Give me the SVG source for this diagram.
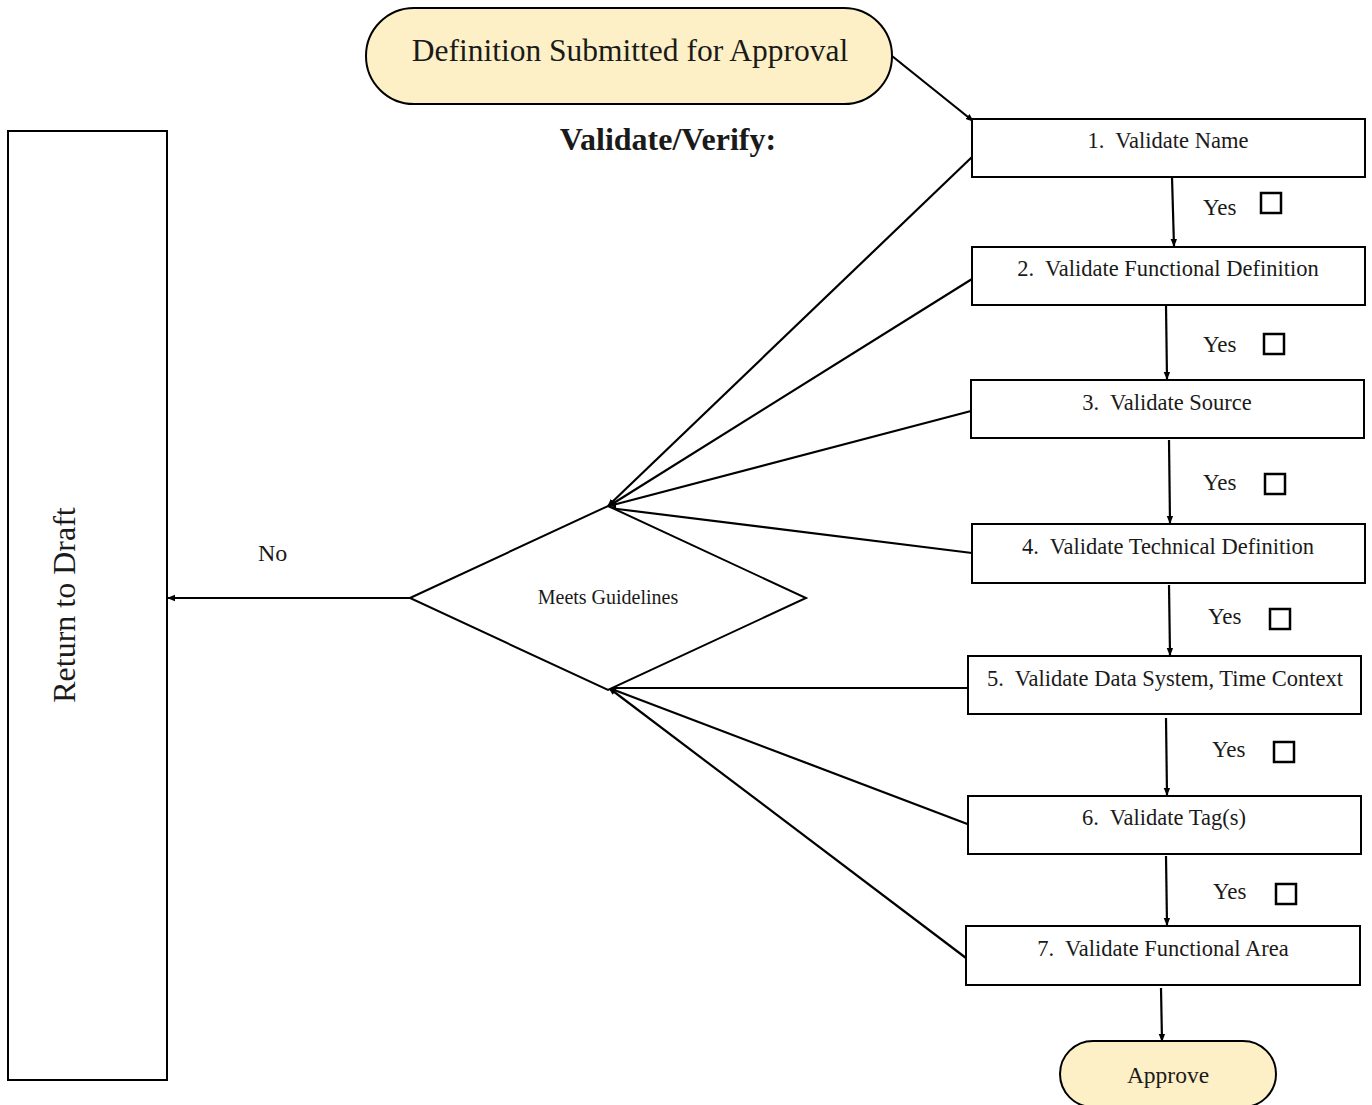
<svg xmlns="http://www.w3.org/2000/svg" width="1372" height="1105" viewBox="0 0 1372 1105">
<defs>
<style>
.t{font-family:"Liberation Serif","Times New Roman",serif;fill:#1a1a1a;white-space:pre}
.bt{font-size:22.5px}
.yes{font-size:23px}
.box{fill:#fff;stroke:#000;stroke-width:2}
.term{fill:#FEF0C6;stroke:#000;stroke-width:2}
.cb{fill:none;stroke:#000;stroke-width:2.5}
.ca{stroke:#000;stroke-width:2.2;fill:none;marker-end:url(#ah)}
</style>
<marker id="ah" markerWidth="8" markerHeight="8" refX="7" refY="4" orient="auto" markerUnits="userSpaceOnUse">
<path d="M0,0.8 L8,4 L0,7.2 Z" fill="#000"/>
</marker>
</defs>
<rect width="1372" height="1105" fill="#fff"/>

<g id="connectors">
<line class="ca" x1="892" y1="56" x2="973" y2="121"/>
<line class="ca" x1="1172" y1="177" x2="1174" y2="246"/>
<line class="ca" x1="1166" y1="305" x2="1167" y2="379"/>
<line class="ca" x1="1169" y1="440" x2="1170" y2="523"/>
<line class="ca" x1="1169" y1="585" x2="1170" y2="655"/>
<line class="ca" x1="1166" y1="718" x2="1167" y2="795"/>
<line class="ca" x1="1166" y1="856" x2="1167" y2="925"/>
<line class="ca" x1="1161" y1="988" x2="1162" y2="1041"/>
<line class="ca" x1="972" y1="157" x2="608" y2="506"/>
<line class="ca" x1="972" y1="279" x2="609" y2="506"/>
<line class="ca" x1="971" y1="411" x2="609" y2="506"/>
<line class="ca" x1="972" y1="553" x2="609" y2="508"/>
<line class="ca" x1="968" y1="688" x2="609" y2="688"/>
<line class="ca" x1="970" y1="825" x2="609" y2="688"/>
<line class="ca" x1="966" y1="958" x2="609" y2="688"/>
<line class="ca" x1="410" y1="598" x2="168" y2="598"/>
</g>

<g id="start">
<rect class="term" x="366" y="8" width="526" height="96" rx="48" ry="48"/>
<text class="t" x="630" y="61" font-size="31.5" text-anchor="middle">Definition Submitted for Approval</text>
</g>

<g id="heading">
<text class="t" x="668" y="150" font-size="32" font-weight="bold" text-anchor="middle">Validate/Verify:</text>
</g>

<g id="step1">
<rect class="box" x="972" y="119" width="393" height="58"/>
<text class="t bt" x="1168" y="148" text-anchor="middle">1.  Validate Name</text>
</g>
<g id="step2">
<rect class="box" x="972" y="247" width="393" height="58"/>
<text class="t bt" x="1168" y="276" text-anchor="middle">2.  Validate Functional Definition</text>
</g>
<g id="step3">
<rect class="box" x="971" y="380" width="393" height="58"/>
<text class="t bt" x="1167" y="410" text-anchor="middle">3.  Validate Source</text>
</g>
<g id="step4">
<rect class="box" x="972" y="524" width="393" height="59"/>
<text class="t bt" x="1168" y="554" text-anchor="middle">4.  Validate Technical Definition</text>
</g>
<g id="step5">
<rect class="box" x="968" y="656" width="393" height="58"/>
<text class="t bt" x="1165" y="686" text-anchor="middle">5.  Validate Data System, Time Context</text>
</g>
<g id="step6">
<rect class="box" x="968" y="796" width="393" height="58"/>
<text class="t bt" x="1164" y="825" text-anchor="middle">6.  Validate Tag(s)</text>
</g>
<g id="step7">
<rect class="box" x="966" y="926" width="394" height="59"/>
<text class="t bt" x="1163" y="956" text-anchor="middle">7.  Validate Functional Area</text>
</g>

<g id="yes1"><text class="t yes" x="1203" y="215">Yes</text><rect class="cb" x="1261" y="193" width="20" height="20"/></g>
<g id="yes2"><text class="t yes" x="1203" y="352">Yes</text><rect class="cb" x="1264" y="334" width="20" height="20"/></g>
<g id="yes3"><text class="t yes" x="1203" y="490">Yes</text><rect class="cb" x="1265" y="474" width="20" height="20"/></g>
<g id="yes4"><text class="t yes" x="1208" y="624">Yes</text><rect class="cb" x="1270" y="609" width="20" height="20"/></g>
<g id="yes5"><text class="t yes" x="1212" y="757">Yes</text><rect class="cb" x="1274" y="742" width="20" height="20"/></g>
<g id="yes6"><text class="t yes" x="1213" y="899">Yes</text><rect class="cb" x="1276" y="884" width="20" height="20"/></g>

<g id="approve">
<rect class="term" x="1060" y="1041" width="216" height="66" rx="33" ry="33"/>
<text class="t" x="1168" y="1083" font-size="23.5" text-anchor="middle">Approve</text>
</g>

<g id="decision">
<polygon points="410,598 608,506 806,598 608,690" fill="#fff" stroke="#000" stroke-width="2"/>
<text class="t" x="608" y="604" font-size="20" text-anchor="middle">Meets Guidelines</text>
</g>

<g id="no-label">
<text class="t" x="258" y="561" font-size="24">No</text>
</g>

<g id="return">
<rect class="box" x="8" y="131" width="159" height="949"/>
<text class="t" x="0" y="0" font-size="32" text-anchor="middle" transform="translate(75,605) rotate(-90)">Return to Draft</text>
</g>
</svg>
